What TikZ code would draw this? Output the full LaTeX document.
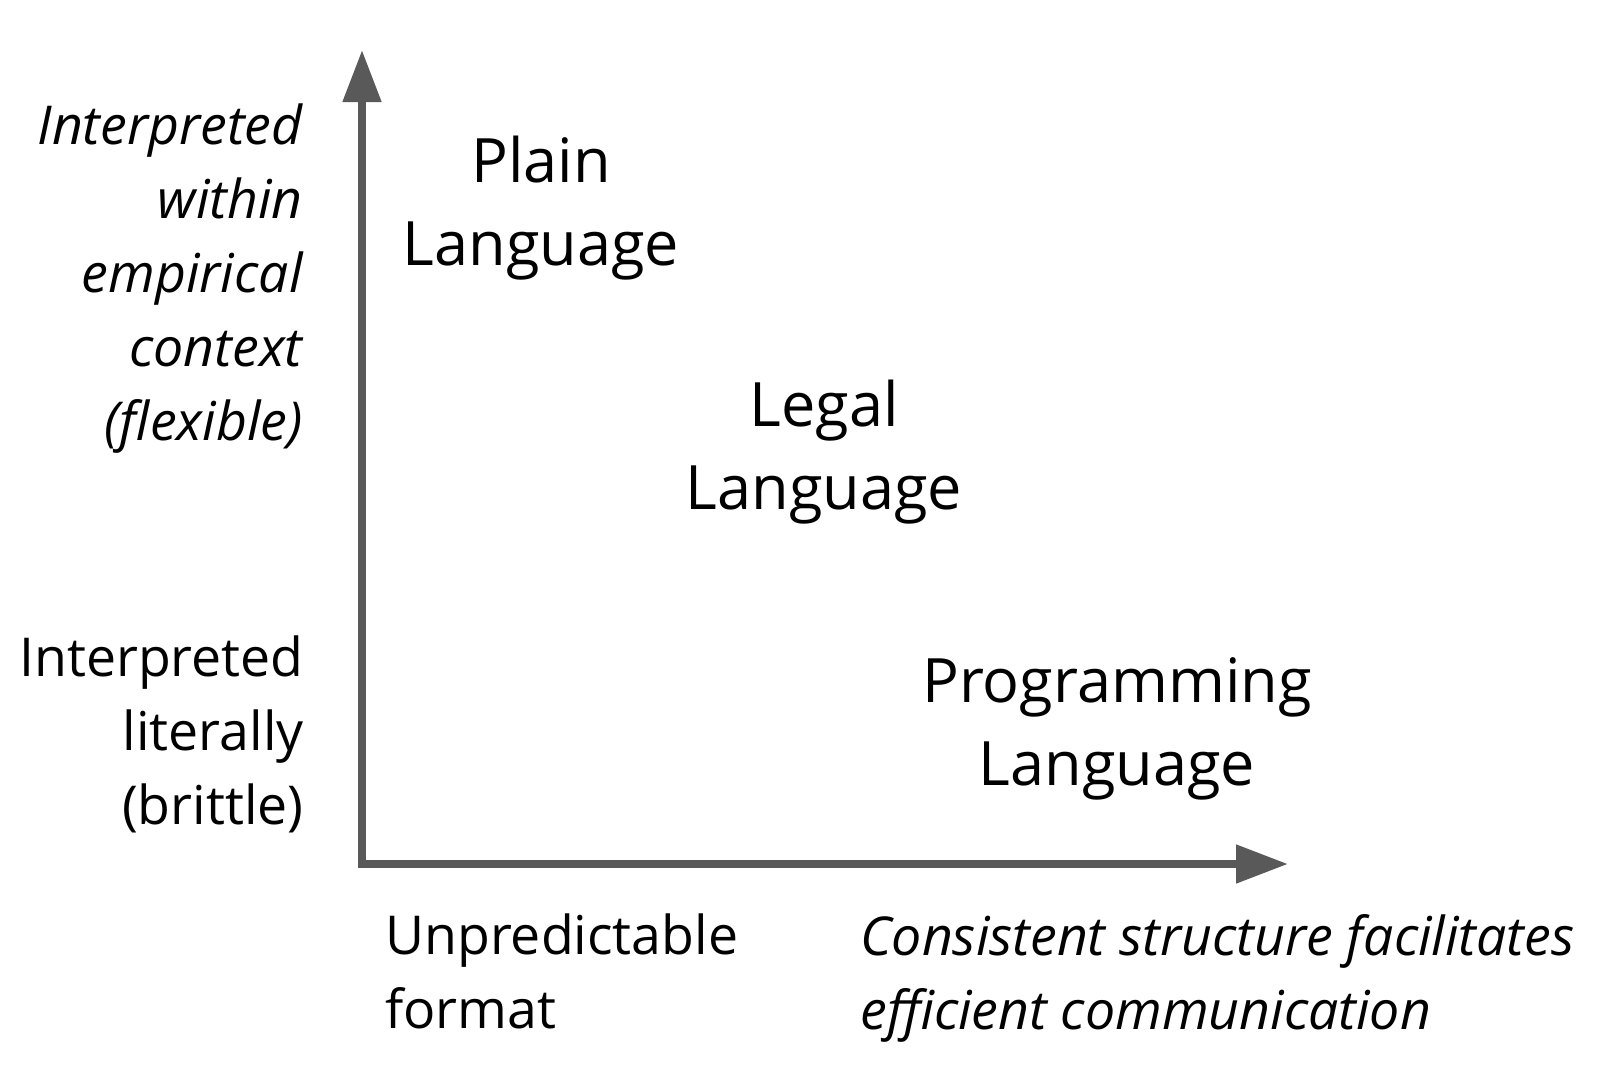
\documentclass[tikz,border=0pt]{standalone}
\usepackage{fontspec}
\setmainfont{Open Sans}
\usetikzlibrary{arrows.meta}
\definecolor{axisgray}{HTML}{595959}
\tikzset{
  axisline/.style={draw=axisgray, line width=4pt, line join=miter,
    {Triangle[length=26pt,width=18.5pt]}-{Triangle[length=26pt,width=18.5pt]}},
  smalltext/.style={inner sep=0pt, font=\fontsize{26.8}{37}\selectfont},
  smallit/.style={inner sep=0pt, font=\fontsize{26.8}{37}\selectfont\itshape},
  bigtext/.style={inner sep=0pt, align=center, font=\fontsize{30.6}{41.5}\selectfont},
}
\begin{document}
\begin{tikzpicture}[x=0.5pt,y=-0.5pt]
\useasboundingbox (0,0) rectangle (1600,1077);
\coordinate (O) at (362,864);
\coordinate (ytip) at (362,50);
\coordinate (xtip) at (1288,864);
\draw[axisline] (ytip) -- (O) -- (xtip);

\node[smallit, align=right, anchor=base east] (flex) at (303,440)
  {Interpreted\\within\\empirical\\context\\(flexible)};
\node[smalltext, align=right, anchor=base east] (brittle) at (304,824)
  {Interpreted\\literally\\(brittle)};
\node[smalltext, align=left, anchor=base west] (unpred) at (385,1028)
  {Unpredictable\\format};
\node[smallit, align=left, anchor=base west] (consist) at (860,1029)
  {Consistent structure facilitates\\efficient communication};

\node[bigtext, anchor=base] (plain) at (541,265) {Plain\\Language};
\node[bigtext, anchor=base] (legal) at (824,509) {Legal\\Language};
\node[bigtext, anchor=base] (prog) at (1117,785) {Programming\\Language};
\end{tikzpicture}
\end{document}
